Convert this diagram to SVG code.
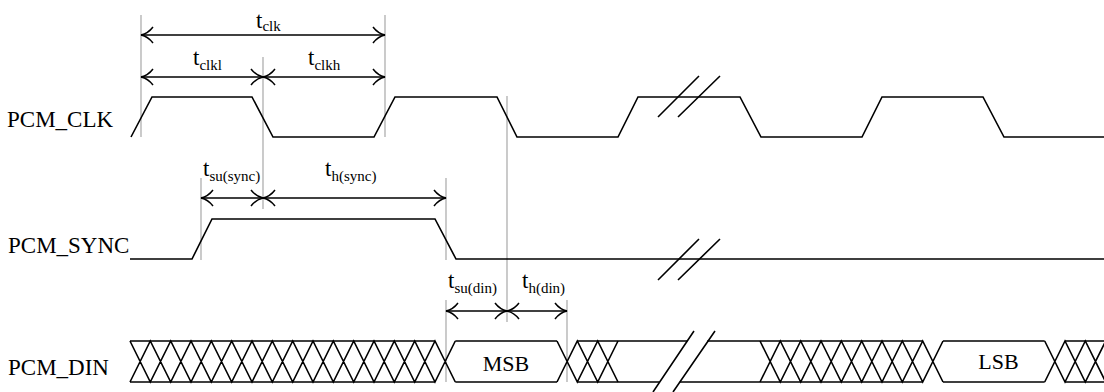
<svg xmlns="http://www.w3.org/2000/svg" width="1104" height="392" viewBox="0 0 1104 392">
<style>
.sig{fill:none;stroke:#000;stroke-width:1.6;stroke-linejoin:miter}
.grid{fill:none;stroke:#a8a8a8;stroke-width:1.2}
.dim{fill:none;stroke:#000;stroke-width:1.5;marker-start:url(#ah);marker-end:url(#ah)}
.lbl{font-family:"Liberation Serif","Times New Roman",serif;font-size:22px;fill:#000}
.name{font-size:23px}
.tt{font-size:23px}
.sub{font-size:15px}
</style>
<defs>
<marker id="ah" viewBox="-14 -10 16 20" markerWidth="16" markerHeight="20" refX="0" refY="0" orient="auto-start-reverse" markerUnits="userSpaceOnUse">
<path d="M-12,-8 Q-7,-1.5 0,0 Q-7,1.5 -12,8" fill="none" stroke="#000" stroke-width="1.5"/>
</marker>
</defs>
<rect width="1104" height="392" fill="#fff"/>
<g id="guides">
<path class="grid" d="M141,15V137 M385,15V137 M263,57V209 M507,96V322 M201,178V260 M446,178V260 M446,300V382 M567,300V382"/>
</g>
<g id="pcm_clk">
<text class="lbl name" x="7" y="127">PCM_CLK</text>
<path class="sig" d="M131,137 L152,97 L252,97 L273,137 L374,137 L395,97 L497,97 L517,137 L618,137 L638,97 L740,97 L761,137 L862,137 L882,97 L983,97 L1004,137 L1104,137"/>
<path class="sig" d="M658,117 L699,76 M678,117 L720,76"/>
</g>
<g id="pcm_sync">
<text class="lbl name" x="8" y="253">PCM_SYNC</text>
<path class="sig" d="M130,259 L192,259 L212,219 L435,219 L456,259 L1104,259"/>
<path class="sig" d="M658,280 L699,239 M678,280 L720,239"/>
</g>
<g id="pcm_din">
<text class="lbl name" x="8" y="375">PCM_DIN</text>
<path class="sig" d="M130,341 L150.3,382 L170.7,341 L191,382 L211.3,341 L231.7,382 L252,341 L272.3,382 L292.7,341 L313,382 L333.3,341 L353.7,382 L374,341 L394.3,382 L414.7,341 L435,382 L455.3,341 M130,382 L150.3,341 L170.7,382 L191,341 L211.3,382 L231.7,341 L252,382 L272.3,341 L292.7,382 L313,341 L333.3,382 L353.7,341 L374,382 L394.3,341 L414.7,382 L435,341 L455.3,382"/>
<path class="sig" d="M557,341 L577.3,382 L597.7,341 L618,382 M557,382 L577.3,341 L597.7,382 L618,341"/>
<path class="sig" d="M760,341 L780.3,382 L800.7,341 L821,382 L841.3,341 L861.7,382 L882,341 L902.3,382 L922.7,341 L943,382 M760,382 L780.3,341 L800.7,382 L821,341 L841.3,382 L861.7,341 L882,382 L902.3,341 L922.7,382 L943,341"/>
<path class="sig" d="M1044.7,341 L1065,382 L1085.3,341 L1105.7,382 M1044.7,382 L1065,341 L1085.3,382 L1105.7,341"/>
<path class="sig" d="M130,341 H435 M130,382 H435 M455.3,341 H557 M455.3,382 H557 M577.3,341 H687.3 M577.3,382 H659.7 M707.3,341 H922.7 M679.7,382 H922.7 M943,341 H1044.7 M943,382 H1044.7 M1065,341 H1104 M1065,382 H1104"/>
<path class="sig" d="M653,392 L694,331 M673,392 L715,331"/>
<text class="lbl" x="506" y="371" text-anchor="middle">MSB</text>
<text class="lbl" x="998.5" y="369" text-anchor="middle">LSB</text>
</g>
<g id="connectors">
<path class="dim" d="M141,35 H385"/>
<path class="dim" d="M141,77 H263"/>
<path class="dim" d="M263,77 H385"/>
<path class="dim" d="M201,198 H263"/>
<path class="dim" d="M263,198 H446"/>
<path class="dim" d="M446,311 H507"/>
<path class="dim" d="M507,311 H567"/>
</g>
<g id="labels">
<text class="lbl tt" x="256" y="28">t<tspan class="sub" dy="3">clk</tspan></text>
<text class="lbl tt" x="193" y="65">t<tspan class="sub" dy="5">clkl</tspan></text>
<text class="lbl tt" x="308" y="65">t<tspan class="sub" dy="5">clkh</tspan></text>
<text class="lbl tt" x="203" y="176">t<tspan class="sub" dy="5">su(sync)</tspan></text>
<text class="lbl tt" x="325" y="176">t<tspan class="sub" dy="5">h(sync)</tspan></text>
<text class="lbl tt" x="448" y="288">t<tspan class="sub" dy="5">su(din)</tspan></text>
<text class="lbl tt" x="522" y="288">t<tspan class="sub" dy="5">h(din)</tspan></text>
</g>
</svg>
